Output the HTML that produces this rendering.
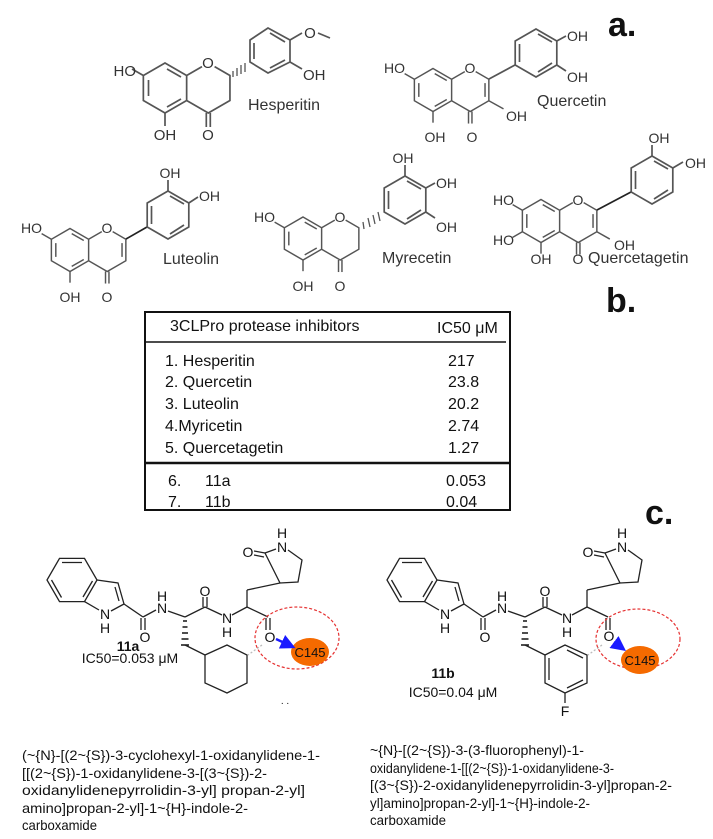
<!DOCTYPE html>
<html><head><meta charset="utf-8"><style>
html,body{margin:0;padding:0;background:#fff;}
svg{display:block;}
text{font-family:"Liberation Sans",sans-serif;}
</style></head><body>
<svg width="713" height="839" viewBox="0 0 713 839" xmlns="http://www.w3.org/2000/svg">
<defs>
<marker id="ah" markerWidth="6" markerHeight="6" refX="4" refY="3" orient="auto"><path d="M0,0 L6,3 L0,6 z" fill="#1a1aff"/></marker>
</defs>

<!-- ============ PART a: flavonoids ============ -->
<g fill="none" stroke="#555" stroke-width="1.7">
<!-- Hesperetin -->
<g transform="translate(165,88)">
<polygon points="0,-25 21.65,-12.5 21.65,12.5 0,25 -21.65,12.5 -21.65,-12.5"/>
<line x1="2" y1="-19" x2="16" y2="-11"/><line x1="16" y1="11" x2="2" y2="19"/><line x1="-16.5" y1="-8" x2="-16.5" y2="8"/>
<polyline points="21.65,-12.5 37,-21.4"/><polyline points="49.6,-21.4 64.95,-12.5 64.95,12.5 43.3,25 21.65,12.5"/>
<line x1="41.3" y1="25" x2="41.3" y2="39"/><line x1="45.3" y1="25" x2="45.3" y2="39"/>
<line x1="0" y1="25" x2="0" y2="38"/><line x1="-21.65" y1="-12.5" x2="-33" y2="-19"/>
</g>
<g stroke-width="1.3"><line x1="233" y1="71" x2="233" y2="77"/><line x1="237" y1="68" x2="237" y2="76"/><line x1="241" y1="65" x2="241" y2="74"/><line x1="245" y1="63" x2="245" y2="72"/></g>
<polygon points="250,62 250,40 268,28 290,40 290,62 268,73"/>
<line x1="254" y1="43" x2="254" y2="59"/><line x1="270" y1="33" x2="285" y2="42"/><line x1="285" y1="60" x2="270" y2="68"/>
<line x1="290" y1="40" x2="302" y2="33"/><line x1="318" y1="33" x2="330" y2="38"/>
<line x1="290" y1="62" x2="302" y2="69"/>

<!-- Quercetin -->
<g transform="translate(433,90) scale(0.86)">
<polygon points="0,-25 21.65,-12.5 21.65,12.5 0,25 -21.65,12.5 -21.65,-12.5"/>
<line x1="2" y1="-19" x2="16" y2="-11"/><line x1="16" y1="11" x2="2" y2="19"/><line x1="-16.5" y1="-8" x2="-16.5" y2="8"/>
<polyline points="21.65,-12.5 37,-21.4"/><polyline points="49.6,-21.4 64.95,-12.5 64.95,12.5 43.3,25 21.65,12.5"/>
<line x1="60.5" y1="-8" x2="60.5" y2="8"/>
<line x1="41.3" y1="25" x2="41.3" y2="39"/><line x1="45.3" y1="25" x2="45.3" y2="39"/>
<line x1="0" y1="25" x2="0" y2="38"/><line x1="-21.65" y1="-12.5" x2="-33" y2="-19"/>
<line x1="64.95" y1="12.5" x2="82" y2="22"/>
</g>
<line x1="489" y1="79" x2="515" y2="65"/>
<polygon points="536,29 556.8,41 556.8,65 536,77 515.2,65 515.2,41"/>
<line x1="519.5" y1="44" x2="519.5" y2="62"/><line x1="538" y1="34" x2="552" y2="42"/><line x1="552" y1="63" x2="538" y2="72"/>
<line x1="556.8" y1="41" x2="566" y2="36"/><line x1="556.8" y1="65" x2="566" y2="71"/>

<!-- Luteolin -->
<g transform="translate(70,250) scale(0.86)">
<polygon points="0,-25 21.65,-12.5 21.65,12.5 0,25 -21.65,12.5 -21.65,-12.5"/>
<line x1="2" y1="-19" x2="16" y2="-11"/><line x1="16" y1="11" x2="2" y2="19"/><line x1="-16.5" y1="-8" x2="-16.5" y2="8"/>
<polyline points="21.65,-12.5 37,-21.4"/><polyline points="49.6,-21.4 64.95,-12.5 64.95,12.5 43.3,25 21.65,12.5"/>
<line x1="60.5" y1="-8" x2="60.5" y2="8"/>
<line x1="41.3" y1="25" x2="41.3" y2="39"/><line x1="45.3" y1="25" x2="45.3" y2="39"/>
<line x1="0" y1="25" x2="0" y2="38"/><line x1="-21.65" y1="-12.5" x2="-33" y2="-19"/>
</g>
<line x1="126" y1="239" x2="147" y2="227" stroke="#222"/>
<polygon points="168,191 188.8,203 188.8,227 168,239 147.2,227 147.2,203"/>
<line x1="151.5" y1="206" x2="151.5" y2="224"/><line x1="170" y1="196" x2="184" y2="204"/><line x1="184" y1="225" x2="170" y2="234"/>
<line x1="168" y1="191" x2="168" y2="180"/><line x1="188.8" y1="203" x2="198" y2="197"/>

<!-- Myricetin -->
<g transform="translate(303,238.5) scale(0.86)">
<polygon points="0,-25 21.65,-12.5 21.65,12.5 0,25 -21.65,12.5 -21.65,-12.5"/>
<line x1="2" y1="-19" x2="16" y2="-11"/><line x1="16" y1="11" x2="2" y2="19"/><line x1="-16.5" y1="-8" x2="-16.5" y2="8"/>
<polyline points="21.65,-12.5 37,-21.4"/><polyline points="49.6,-21.4 64.95,-12.5 64.95,12.5 43.3,25 21.65,12.5"/>
<line x1="41.3" y1="25" x2="41.3" y2="39"/><line x1="45.3" y1="25" x2="45.3" y2="39"/>
<line x1="0" y1="25" x2="0" y2="38"/><line x1="-21.65" y1="-12.5" x2="-33" y2="-19"/>
</g>
<g stroke-width="1.3"><line x1="363" y1="222" x2="364" y2="229"/><line x1="368" y1="218" x2="370" y2="227"/><line x1="373" y1="215" x2="375" y2="224"/><line x1="378" y1="212" x2="380" y2="221"/></g>
<polygon points="405,176 425.8,188 425.8,212 405,224 384.2,212 384.2,188"/>
<line x1="388.5" y1="191" x2="388.5" y2="209"/><line x1="407" y1="181" x2="421" y2="189"/><line x1="421" y1="210" x2="407" y2="219"/>
<line x1="405" y1="176" x2="405" y2="165"/><line x1="425.8" y1="188" x2="435" y2="183"/><line x1="425.8" y1="212" x2="435" y2="218"/>

<!-- Quercetagetin -->
<g transform="translate(541,221) scale(0.86)">
<polygon points="0,-25 21.65,-12.5 21.65,12.5 0,25 -21.65,12.5 -21.65,-12.5"/>
<line x1="2" y1="-19" x2="16" y2="-11"/><line x1="16" y1="11" x2="2" y2="19"/><line x1="-16.5" y1="-8" x2="-16.5" y2="8"/>
<polyline points="21.65,-12.5 37,-21.4"/><polyline points="49.6,-21.4 64.95,-12.5 64.95,12.5 43.3,25 21.65,12.5"/>
<line x1="60.5" y1="-8" x2="60.5" y2="8"/>
<line x1="41.3" y1="25" x2="41.3" y2="39"/><line x1="45.3" y1="25" x2="45.3" y2="39"/>
<line x1="0" y1="25" x2="0" y2="38"/><line x1="-21.65" y1="-12.5" x2="-33" y2="-19"/>
<line x1="-21.65" y1="12.5" x2="-33" y2="19"/>
<line x1="64.95" y1="12.5" x2="80" y2="21"/>
</g>
<line x1="597" y1="210" x2="631" y2="192" stroke="#222"/>
<polygon points="652,156 672.8,168 672.8,192 652,204 631.2,192 631.2,168"/>
<line x1="635.5" y1="171" x2="635.5" y2="189"/><line x1="654" y1="161" x2="668" y2="169"/><line x1="668" y1="190" x2="654" y2="199"/>
<line x1="652" y1="156" x2="652" y2="145"/><line x1="672.8" y1="168" x2="683" y2="162"/>
</g>

<g fill="#333" font-size="15">
<!-- Hesperetin labels -->
<text x="136" y="76" text-anchor="end">HO</text>
<text x="208" y="68" text-anchor="middle">O</text>
<text x="165" y="140" text-anchor="middle">OH</text>
<text x="208" y="140" text-anchor="middle">O</text>
<text x="310" y="38" text-anchor="middle">O</text>
<text x="303" y="80">OH</text>
<text x="248" y="110" font-size="16">Hesperitin</text>
<!-- Quercetin -->
<text x="405" y="73" text-anchor="end" font-size="14">HO</text>
<text x="470" y="73" text-anchor="middle" font-size="14">O</text>
<text x="435" y="142" text-anchor="middle" font-size="14">OH</text>
<text x="472" y="142" text-anchor="middle" font-size="14">O</text>
<text x="567" y="41" font-size="14">OH</text>
<text x="567" y="82" font-size="14">OH</text>
<text x="506" y="121" font-size="14">OH</text>
<text x="537" y="106" font-size="16">Quercetin</text>
<!-- Luteolin -->
<text x="42" y="233" text-anchor="end" font-size="14">HO</text>
<text x="107" y="233" text-anchor="middle" font-size="14">O</text>
<text x="70" y="302" text-anchor="middle" font-size="14">OH</text>
<text x="107" y="302" text-anchor="middle" font-size="14">O</text>
<text x="170" y="178" text-anchor="middle" font-size="14">OH</text>
<text x="199" y="201" font-size="14">OH</text>
<text x="163" y="264" font-size="16">Luteolin</text>
<!-- Myricetin -->
<text x="275" y="222" text-anchor="end" font-size="14">HO</text>
<text x="340" y="222" text-anchor="middle" font-size="14">O</text>
<text x="303" y="291" text-anchor="middle" font-size="14">OH</text>
<text x="340" y="291" text-anchor="middle" font-size="14">O</text>
<text x="403" y="163" text-anchor="middle" font-size="14">OH</text>
<text x="436" y="188" font-size="14">OH</text>
<text x="436" y="232" font-size="14">OH</text>
<text x="382" y="263" font-size="16">Myrecetin</text>
<!-- Quercetagetin -->
<text x="514" y="205" text-anchor="end" font-size="14">HO</text>
<text x="514" y="245" text-anchor="end" font-size="14">HO</text>
<text x="578" y="205" text-anchor="middle" font-size="14">O</text>
<text x="541" y="264" text-anchor="middle" font-size="14">OH</text>
<text x="578" y="264" text-anchor="middle" font-size="14">O</text>
<text x="614" y="250" font-size="14">OH</text>
<text x="659" y="143" text-anchor="middle" font-size="14">OH</text>
<text x="685" y="168" font-size="14">OH</text>
<text x="588" y="263" font-size="16">Quercetagetin</text>
</g>

<text x="608" y="36" font-size="34" font-weight="bold" fill="#111">a.</text>
<text x="606" y="312" font-size="34" font-weight="bold" fill="#111">b.</text>
<text x="645" y="524" font-size="34" font-weight="bold" fill="#111">c.</text>

<!-- ============ PART b: table ============ -->
<g stroke="#111" fill="none">
<rect x="145" y="312" width="365" height="198" stroke-width="2"/>
<line x1="145" y1="342" x2="506" y2="342" stroke-width="1.5"/>
<line x1="145" y1="463" x2="510" y2="463" stroke-width="2.5"/>
</g>
<g fill="#111" font-size="16">
<text x="170" y="331">3CLPro protease inhibitors</text>
<text x="437" y="333">IC50 μM</text>
<text x="165" y="366">1. Hesperitin</text><text x="448" y="366">217</text>
<text x="165" y="387">2. Quercetin</text><text x="448" y="387">23.8</text>
<text x="165" y="409">3. Luteolin</text><text x="448" y="409">20.2</text>
<text x="165" y="431">4.Myricetin</text><text x="448" y="431">2.74</text>
<text x="165" y="453">5. Quercetagetin</text><text x="448" y="453">1.27</text>
<text x="168" y="486">6.</text><text x="205" y="486">11a</text><text x="446" y="486">0.053</text>
<text x="168" y="507">7.</text><text x="205" y="507">11b</text><text x="446" y="507">0.04</text>
</g>

<!-- ============ PART c: 11a ============ -->
<g fill="none" stroke="#222" stroke-width="1.3">
<polygon points="97,580 84.5,601.6 59.5,601.6 47,580 59.5,558.4 84.5,558.4"/>
<line x1="62" y1="562.5" x2="82" y2="562.5"/><line x1="61.5" y1="597.5" x2="51.5" y2="580"/><line x1="92.5" y1="581" x2="83" y2="597"/>
<polyline points="97,580 118,583 124,604 111,611"/><line x1="115" y1="587" x2="119" y2="601"/>
<line x1="84.5" y1="601.6" x2="99" y2="610"/>
<line x1="124" y1="604" x2="143" y2="617"/><line x1="141" y1="618" x2="141" y2="630"/><line x1="145" y1="618" x2="145" y2="630"/>
<line x1="143" y1="617" x2="156" y2="610"/>
<line x1="168" y1="611" x2="185" y2="617"/>
<g stroke-width="1.6"><line x1="183" y1="621" x2="187" y2="621"/><line x1="182.5" y1="627" x2="187.5" y2="627"/><line x1="182" y1="633" x2="188" y2="633"/><line x1="181.5" y1="639" x2="188.5" y2="639"/><line x1="181" y1="645" x2="189" y2="645"/></g>
<line x1="185" y1="645" x2="205" y2="655"/>
<polygon points="205,655 227,645 247,655 247,683 227,693 205,683"/>
<line x1="185" y1="617" x2="205" y2="607"/><line x1="203" y1="607" x2="203" y2="597"/><line x1="207" y1="607" x2="207" y2="597"/>
<line x1="205" y1="607" x2="222" y2="615"/><line x1="232" y1="615" x2="247" y2="607"/>
<line x1="247" y1="607" x2="247" y2="590"/><line x1="247" y1="590" x2="280" y2="583"/>
<polyline points="280,583 265,553 276,549"/><polyline points="288,550 302,560 298,582 280,583"/>
<line x1="265" y1="553" x2="254" y2="551"/><line x1="264" y1="557" x2="254" y2="555"/>
<line x1="247" y1="607" x2="268" y2="617"/><line x1="266" y1="618" x2="266" y2="630"/><line x1="270" y1="618" x2="270" y2="630"/>
<line x1="262" y1="645" x2="248" y2="655" stroke="#bbb" stroke-dasharray="2,2"/>
</g>
<ellipse cx="297" cy="638" rx="42" ry="31" fill="none" stroke="#e53030" stroke-width="1.2" stroke-dasharray="3,2"/>
<ellipse cx="310" cy="652" rx="19" ry="14" fill="#f56a00"/>
<line x1="276" y1="639" x2="291" y2="646" stroke="#1a1aff" stroke-width="2.5" marker-end="url(#ah)"/>
<g fill="#111" font-size="14" text-anchor="middle">
<text x="105" y="619">N</text><text x="105" y="633">H</text>
<text x="145" y="642">O</text>
<text x="162" y="613">N</text><text x="162" y="601">H</text>
<text x="205" y="596">O</text>
<text x="227" y="623">N</text><text x="227" y="637">H</text>
<text x="248" y="557">O</text>
<text x="282" y="552">N</text><text x="282" y="538">H</text>
<text x="270" y="642">O</text>
<text x="310" y="657" font-size="13">C145</text>
<text x="128" y="651" font-weight="bold">11a</text>
<text x="130" y="663">IC50=0.053 μM</text>
<text x="285" y="704" font-size="10">. .</text>
</g>

<!-- ============ PART c: 11b ============ -->
<g transform="translate(340,0)" fill="none" stroke="#222" stroke-width="1.3">
<polygon points="97,580 84.5,601.6 59.5,601.6 47,580 59.5,558.4 84.5,558.4"/>
<line x1="62" y1="562.5" x2="82" y2="562.5"/><line x1="61.5" y1="597.5" x2="51.5" y2="580"/><line x1="92.5" y1="581" x2="83" y2="597"/>
<polyline points="97,580 118,583 124,604 111,611"/><line x1="115" y1="587" x2="119" y2="601"/>
<line x1="84.5" y1="601.6" x2="99" y2="610"/>
<line x1="124" y1="604" x2="143" y2="617"/><line x1="141" y1="618" x2="141" y2="630"/><line x1="145" y1="618" x2="145" y2="630"/>
<line x1="143" y1="617" x2="156" y2="610"/>
<line x1="168" y1="611" x2="185" y2="617"/>
<g stroke-width="1.6"><line x1="183" y1="621" x2="187" y2="621"/><line x1="182.5" y1="627" x2="187.5" y2="627"/><line x1="182" y1="633" x2="188" y2="633"/><line x1="181.5" y1="639" x2="188.5" y2="639"/><line x1="181" y1="645" x2="189" y2="645"/></g>
<line x1="185" y1="645" x2="205" y2="655"/>
<polygon points="205,655 225,645 247,655 247,683 225,693 205,683"/>
<line x1="209" y1="658" x2="209" y2="680"/><line x1="227" y1="650" x2="243" y2="658"/><line x1="243" y1="680" x2="227" y2="688"/>
<line x1="225" y1="693" x2="225" y2="703"/>
<line x1="185" y1="617" x2="205" y2="607"/><line x1="203" y1="607" x2="203" y2="597"/><line x1="207" y1="607" x2="207" y2="597"/>
<line x1="205" y1="607" x2="222" y2="615"/><line x1="232" y1="615" x2="247" y2="607"/>
<line x1="247" y1="607" x2="247" y2="590"/><line x1="247" y1="590" x2="280" y2="583"/>
<polyline points="280,583 265,553 276,549"/><polyline points="288,550 302,560 298,582 280,583"/>
<line x1="265" y1="553" x2="254" y2="551"/><line x1="264" y1="557" x2="254" y2="555"/>
<line x1="247" y1="607" x2="268" y2="617"/><line x1="266" y1="618" x2="266" y2="630"/><line x1="270" y1="618" x2="270" y2="630"/>
<line x1="262" y1="645" x2="248" y2="655" stroke="#bbb" stroke-dasharray="2,2"/>
</g>
<ellipse cx="638" cy="639" rx="42" ry="30" fill="none" stroke="#e53030" stroke-width="1.2" stroke-dasharray="3,2"/>
<ellipse cx="640" cy="660" rx="19" ry="14" fill="#f56a00"/>
<line x1="614" y1="642" x2="622" y2="648" stroke="#1a1aff" stroke-width="2.5" marker-end="url(#ah)"/>
<g fill="#111" font-size="14" text-anchor="middle">
<text x="445" y="619">N</text><text x="445" y="633">H</text>
<text x="485" y="642">O</text>
<text x="502" y="613">N</text><text x="502" y="601">H</text>
<text x="545" y="596">O</text>
<text x="567" y="623">N</text><text x="567" y="637">H</text>
<text x="588" y="557">O</text>
<text x="622" y="552">N</text><text x="622" y="538">H</text>
<text x="609" y="641">O</text>
<text x="640" y="665" font-size="13">C145</text>
<text x="565" y="716">F</text>
<text x="443" y="678" font-weight="bold">11b</text>
<text x="453" y="697">IC50=0.04 μM</text>
</g>

<!-- Names -->
<g fill="#111" font-size="14">
<text x="22" y="760" textLength="298" lengthAdjust="spacingAndGlyphs">(~{N}-[(2~{S})-3-cyclohexyl-1-oxidanylidene-1-</text>
<text x="22" y="778" textLength="245" lengthAdjust="spacingAndGlyphs">[[(2~{S})-1-oxidanylidene-3-[(3~{S})-2-</text>
<text x="22" y="795" textLength="283" lengthAdjust="spacingAndGlyphs">oxidanylidenepyrrolidin-3-yl] propan-2-yl]</text>
<text x="22" y="813" textLength="226" lengthAdjust="spacingAndGlyphs">amino]propan-2-yl]-1~{H}-indole-2-</text>
<text x="22" y="830" textLength="75" lengthAdjust="spacingAndGlyphs">carboxamide</text>
<text x="370" y="755" textLength="214" lengthAdjust="spacingAndGlyphs">~{N}-[(2~{S})-3-(3-fluorophenyl)-1-</text>
<text x="370" y="773" textLength="244" lengthAdjust="spacingAndGlyphs">oxidanylidene-1-[[(2~{S})-1-oxidanylidene-3-</text>
<text x="370" y="790" textLength="302" lengthAdjust="spacingAndGlyphs">[(3~{S})-2-oxidanylidenepyrrolidin-3-yl]propan-2-</text>
<text x="370" y="808" textLength="220" lengthAdjust="spacingAndGlyphs">yl]amino]propan-2-yl]-1~{H}-indole-2-</text>
<text x="370" y="825" textLength="76" lengthAdjust="spacingAndGlyphs">carboxamide</text>
</g>
</svg>
</body></html>
